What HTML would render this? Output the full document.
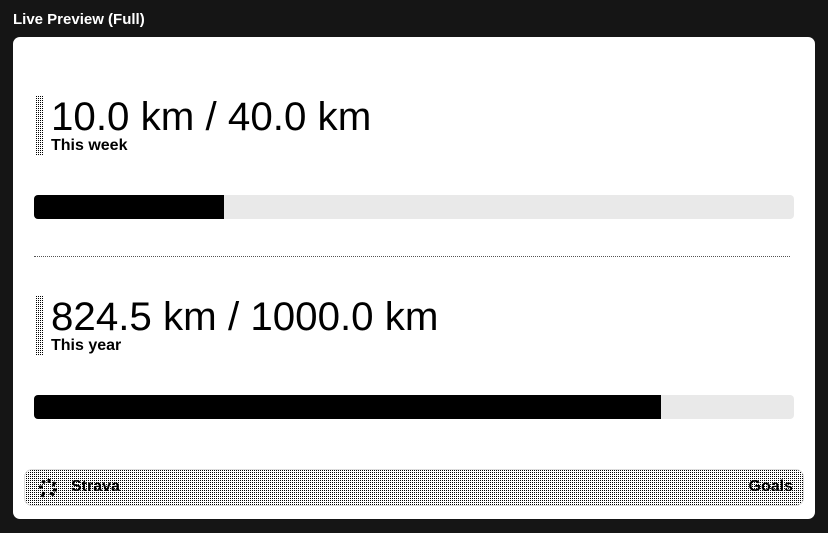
<!DOCTYPE html>
<html><head><meta charset="utf-8"><style>
body{margin:0;width:828px;height:533px;background:#151515;font-family:"Liberation Sans",sans-serif;overflow:hidden;position:relative}
.hdr{position:absolute;left:13px;top:11px;color:#fff;font-size:15px;font-weight:bold}
.card{position:absolute;left:13px;top:37px;width:802px;height:482px;background:#fff;border-radius:7px}
.dots{background:#fff repeating-conic-gradient(#000 0 25%,transparent 0 100%) 0 0/2px 2px}
.marker{position:absolute;width:8px;height:60px}
.val{position:absolute;font-size:40.3px;color:#000;white-space:nowrap}
.sub{position:absolute;font-size:16px;font-weight:bold;color:#000}
.track{position:absolute;left:21px;width:760px;height:24px;background:#e9e9e9;border-radius:4px;overflow:hidden}
.fill{position:absolute;left:0;top:0;height:100%;background:#000}
.sep{position:absolute;left:21px;top:219px;width:756px;border-top:1px dotted #555}
.footer{position:absolute;left:11px;top:432px;width:780px;height:37px;border-radius:8px;border:1px solid #ddd;box-sizing:border-box}
.ft{position:absolute;top:8px;font-size:16px;font-weight:bold;color:#000}
</style></head><body>
<div class="hdr">Live Preview (Full)</div>
<div class="card" id="card">
<div class="sep"></div>
<div class="footer dots">
<svg style="position:absolute;left:11px;top:7px" width="24" height="22" viewBox="0 0 24 22">
<g stroke="#000" stroke-width="3" stroke-linecap="butt"><line x1="6" y1="4" x2="9" y2="6"/><line x1="13" y1="2" x2="13" y2="6"/><line x1="19" y1="5" x2="17" y2="9"/><line x1="21" y1="13" x2="17" y2="13"/><line x1="14" y1="16" x2="18" y2="18"/><line x1="8" y1="15" x2="6" y2="20"/><line x1="3" y1="10" x2="7" y2="10"/></g></svg>
<div class="ft" style="left:46px">Strava</div>
<div class="ft" style="right:10px">Goals</div>
</div>
</div>
<script>
const labels=["This week","This year"];
const current=[10.0,824.5];
const targets=[40.0,1000.0];
const card=document.getElementById('card');
const tops=[59,259];
labels.forEach((l,i)=>{
  const t=tops[i];
  const m=document.createElement('div');m.className='marker dots';m.style.left='22px';m.style.top=t+'px';
  
  
  card.appendChild(m);
  const v=document.createElement('div');v.className='val';v.style.left='38px';v.style.top=(t-2)+'px';
  v.textContent=current[i].toFixed(1)+' km / '+targets[i].toFixed(1)+' km';
  
  
  card.appendChild(v);
  const s=document.createElement('div');s.className='sub';s.style.left='38px';s.style.top=(t+41)+'px';s.textContent=l;
  
  
  card.appendChild(s);
  const tr=document.createElement('div');tr.className='track';tr.style.top=(t+99)+'px';
  
  
  const f=document.createElement('div');f.className='fill';f.style.width=(Math.min(1,current[i]/targets[i])*760)+'px';
  
  
  tr.appendChild(f);card.appendChild(tr);
});
</script>
</body></html>
